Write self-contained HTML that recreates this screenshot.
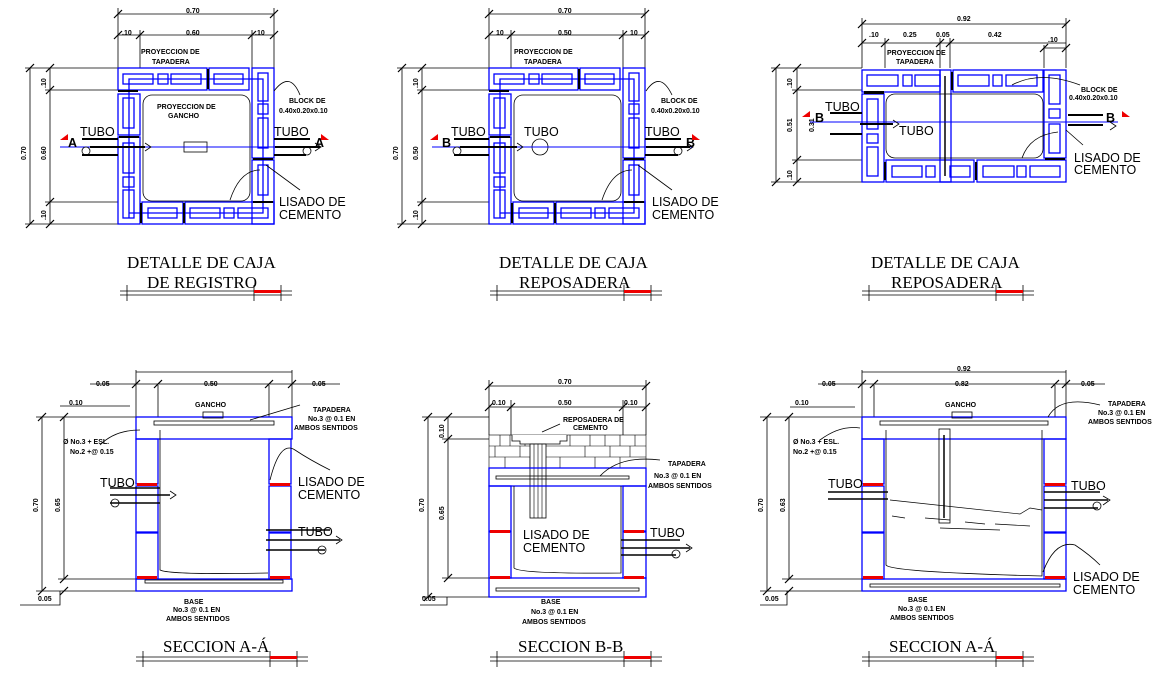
<!DOCTYPE html>
<html><head><meta charset="utf-8"><style>
html,body{margin:0;padding:0;background:#fff;}
svg{display:block}
.t{font-family:"Liberation Serif",serif;font-size:17px;fill:#000}
.s{font-family:"Liberation Sans",sans-serif;font-weight:bold;font-size:7px;fill:#000}
.m{font-family:"Liberation Sans",sans-serif;font-size:12.5px;fill:#000}
.b{fill:none;stroke:#00f;stroke-width:1.3}
.k{fill:none;stroke:#000;stroke-width:0.8}
</style></head><body>
<svg width="1166" height="682" viewBox="0 0 1166 682" xmlns="http://www.w3.org/2000/svg">
<defs>
<g id="plan">
 <!-- blocks -->
 <g class="b">
  <rect x="0" y="0" width="89" height="22"/><rect x="91" y="0" width="40" height="22"/>
  <rect x="134" y="0" width="22" height="90"/><rect x="134" y="92" width="22" height="64"/>
  <rect x="0" y="26" width="22" height="41"/><rect x="0" y="69" width="22" height="87"/>
  <rect x="24" y="134" width="41" height="22"/><rect x="67" y="134" width="89" height="22"/>
  <rect x="5" y="6" width="30" height="10"/><rect x="40" y="6" width="10" height="10"/><rect x="53" y="6" width="30" height="10"/>
  <rect x="96" y="6" width="29" height="10"/>
  <rect x="140" y="5" width="10" height="28"/><rect x="140" y="36" width="10" height="10"/><rect x="140" y="50" width="10" height="30"/>
  <rect x="140" y="97" width="10" height="30"/>
  <rect x="5" y="30" width="11" height="30"/><rect x="5" y="75" width="11" height="30"/><rect x="5" y="109" width="11" height="10"/><rect x="5" y="122" width="11" height="28"/>
  <rect x="30" y="140" width="29" height="10"/><rect x="72" y="140" width="30" height="10"/><rect x="106" y="140" width="10" height="10"/><rect x="120" y="140" width="30" height="10"/>
  <path d="M11 150 V11 H145 V145 H11"/>
 </g>
 <rect x="25" y="27" width="107" height="106" rx="9" class="k"/>
 <g fill="#000"><rect x="1" y="68" width="20" height="2"/><rect x="0" y="22" width="20" height="2"/><rect x="135" y="90" width="20" height="2"/><rect x="135" y="133" width="20" height="2"/><rect x="89" y="1" width="2" height="20"/><rect x="22" y="135" width="2" height="20"/><rect x="65" y="135" width="2" height="20"/></g>
</g>
<g id="ul">
 <path d="M0 0H172M0 4H172M7 -6V10M134 -6V10M161 -6V10" stroke="#000" stroke-width="0.8" fill="none"/>
 <rect x="134" y="-1" width="27" height="3" fill="#e00"/>
</g>
<g id="tick"><path d="M-4 4L4 -4" stroke="#000" stroke-width="1.2"/></g>
</defs>

<!-- ===== PANEL 1 ===== -->
<g class="k">
 <path d="M118 14H274M118 35H274M118 8V68M140 30V68M252 30V68M274 8V68"/>
 <path d="M30 68V224M50 68V224M25 68H118M45 90H118M45 202H118M25 224H118"/>
</g>
<use href="#tick" x="118" y="14"/><use href="#tick" x="274" y="14"/><use href="#tick" x="118" y="35"/><use href="#tick" x="140" y="35"/><use href="#tick" x="252" y="35"/><use href="#tick" x="274" y="35"/>
<use href="#tick" x="30" y="68"/><use href="#tick" x="50" y="68"/><use href="#tick" x="50" y="90"/><use href="#tick" x="50" y="202"/><use href="#tick" x="30" y="224"/><use href="#tick" x="50" y="224"/>
<text class="s" x="186" y="13">0.70</text><text class="s" x="122" y="35">.10</text><text class="s" x="186" y="35">0.60</text><text class="s" x="255" y="35">.10</text>
<text class="s" transform="translate(26 160) rotate(-90)">0.70</text><text class="s" transform="translate(46 160) rotate(-90)">0.60</text>
<text class="s" transform="translate(46 88) rotate(-90)">.10</text><text class="s" transform="translate(46 220) rotate(-90)">.10</text>
<use href="#plan" x="118" y="68"/>
<text class="s" x="141" y="54">PROYECCION DE</text><text class="s" x="152" y="64">TAPADERA</text>
<text class="s" x="157" y="109">PROYECCION DE</text><text class="s" x="168" y="118">GANCHO</text>
<rect x="184" y="142" width="23" height="10" class="k"/>
<text class="s" x="289" y="103">BLOCK DE</text><text class="s" x="279" y="113">0.40x0.20x0.10</text>
<path d="M60 147H320" stroke="#00f" stroke-width="1"/>
<path d="M82 139H118M82 155H118M274 139H310M274 155H306M90 147H145M275 147H320" stroke="#000" stroke-width="2"/>
<circle cx="86" cy="151" r="4" class="k"/><circle cx="307" cy="151" r="4" class="k"/>
<path d="M145 143L151 147L145 151M315 143L321 147L315 151" class="k"/>
<text class="m" x="80" y="136">TUBO</text><text class="m" x="274" y="136">TUBO</text>
<text class="m" font-weight="bold" x="68" y="147">A</text><text class="m" font-weight="bold" x="315" y="147">A</text>
<path d="M60 140L68 134L68 140Z" fill="#e00"/><path d="M329 140L321 134L321 140Z" fill="#e00"/>
<text class="m" x="279" y="206">LISADO DE</text><text class="m" x="279" y="219">CEMENTO</text>
<path d="M230 200Q240 170 260 170M266 165L300 190M274 91Q290 70 300 95" class="k"/>
<text class="t" x="127" y="268">DETALLE DE CAJA</text><text class="t" x="147" y="288">DE REGISTRO</text>
<use href="#ul" x="120" y="291"/>

<!-- ===== PANEL 2 ===== -->
<g class="k">
 <path d="M489 14H645M489 35H645M489 8V68M511 30V68M623 30V68M645 8V68"/>
 <path d="M402 68V224M422 68V224M397 68H489M417 90H489M417 202H489M397 224H489"/>
</g>
<use href="#tick" x="489" y="14"/><use href="#tick" x="645" y="14"/><use href="#tick" x="489" y="35"/><use href="#tick" x="511" y="35"/><use href="#tick" x="623" y="35"/><use href="#tick" x="645" y="35"/>
<use href="#tick" x="402" y="68"/><use href="#tick" x="422" y="68"/><use href="#tick" x="422" y="90"/><use href="#tick" x="422" y="202"/><use href="#tick" x="402" y="224"/><use href="#tick" x="422" y="224"/>
<text class="s" x="558" y="13">0.70</text><text class="s" x="496" y="35">10</text><text class="s" x="558" y="35">0.50</text><text class="s" x="630" y="35">10</text>
<text class="s" transform="translate(398 160) rotate(-90)">0.70</text><text class="s" transform="translate(418 160) rotate(-90)">0.50</text>
<text class="s" transform="translate(418 88) rotate(-90)">.10</text><text class="s" transform="translate(418 220) rotate(-90)">.10</text>
<use href="#plan" x="489" y="68"/>
<text class="s" x="514" y="54">PROYECCION DE</text><text class="s" x="524" y="64">TAPADERA</text>
<text class="s" x="661" y="103">BLOCK DE</text><text class="s" x="651" y="113">0.40x0.20x0.10</text>
<circle cx="540" cy="147" r="8" class="k"/>
<path d="M432 147H692" stroke="#00f" stroke-width="1"/>
<path d="M454 139H489M454 155H489M645 139H681M645 155H678M460 147H517M646 147H690" stroke="#000" stroke-width="2"/>
<circle cx="457" cy="151" r="4" class="k"/><circle cx="678" cy="151" r="4" class="k"/>
<path d="M517 143L523 147L517 151M687 143L693 147L687 151" class="k"/>
<text class="m" x="451" y="136">TUBO</text><text class="m" x="524" y="136">TUBO</text><text class="m" x="645" y="136">TUBO</text>
<text class="m" font-weight="bold" x="442" y="147">B</text><text class="m" font-weight="bold" x="686" y="147">B</text>
<path d="M430 140L438 134L438 140Z" fill="#e00"/><path d="M700 140L692 134L692 140Z" fill="#e00"/>
<text class="m" x="652" y="206">LISADO DE</text><text class="m" x="652" y="219">CEMENTO</text>
<path d="M602 200Q612 170 632 170M638 165L672 190M646 91Q660 70 672 95" class="k"/>
<text class="t" x="499" y="268">DETALLE DE CAJA</text><text class="t" x="519" y="288">REPOSADERA</text>
<use href="#ul" x="490" y="291"/>

<!-- ===== PANEL 3 ===== -->
<g class="k">
 <path d="M862 24H1066M862 43H1066M862 18V68M885 38V68M940 38V68M950 38V68M1044 45V68M1066 18V68M1044 48H1066"/>
 <path d="M776 68V182M797 68V182M771 68H862M792 90H862M792 160H862M771 182H862"/>
</g>
<use href="#tick" x="862" y="24"/><use href="#tick" x="1066" y="24"/><use href="#tick" x="862" y="43"/><use href="#tick" x="885" y="43"/><use href="#tick" x="940" y="43"/><use href="#tick" x="950" y="43"/><use href="#tick" x="1044" y="48"/><use href="#tick" x="1066" y="48"/>
<use href="#tick" x="776" y="68"/><use href="#tick" x="797" y="68"/><use href="#tick" x="797" y="90"/><use href="#tick" x="797" y="160"/><use href="#tick" x="776" y="182"/><use href="#tick" x="797" y="182"/>
<text class="s" x="957" y="21">0.92</text><text class="s" x="869" y="37">.10</text><text class="s" x="903" y="37">0.25</text><text class="s" x="936" y="37">0.05</text><text class="s" x="988" y="37">0.42</text><text class="s" x="1048" y="42">.10</text>
<text class="s" transform="translate(792 132) rotate(-90)">0.51</text><text class="s" transform="translate(814 132) rotate(-90)">0.31</text>
<text class="s" transform="translate(792 88) rotate(-90)">.10</text><text class="s" transform="translate(792 180) rotate(-90)">.10</text>
<g class="b">
 <rect x="862" y="70" width="78" height="22"/><rect x="953" y="70" width="90" height="22"/><rect x="1044" y="70" width="22" height="88"/>
 <rect x="862" y="94" width="22" height="88"/><rect x="886" y="160" width="88" height="22"/><rect x="977" y="160" width="89" height="22"/>
 <rect x="940" y="70" width="11" height="112"/>
 <rect x="867" y="75" width="31" height="11"/><rect x="903" y="75" width="9" height="11"/><rect x="915" y="75" width="25" height="11"/>
 <rect x="958" y="75" width="31" height="11"/><rect x="993" y="75" width="9" height="11"/><rect x="1006" y="75" width="31" height="11"/>
 <rect x="1049" y="75" width="11" height="29"/><rect x="1049" y="109" width="11" height="9"/><rect x="1049" y="124" width="11" height="29"/>
 <rect x="867" y="99" width="11" height="30"/><rect x="867" y="134" width="11" height="9"/><rect x="867" y="147" width="11" height="29"/>
 <rect x="892" y="166" width="30" height="11"/><rect x="926" y="166" width="9" height="11"/><rect x="950" y="166" width="20" height="11"/><rect x="983" y="166" width="31" height="11"/><rect x="1017" y="166" width="9" height="11"/><rect x="1030" y="166" width="30" height="11"/>
</g>
<rect x="886" y="94" width="157" height="64" rx="9" class="k"/>
<path d="M945 76V176" stroke="#000" stroke-width="1.5"/>
<g fill="#000"><rect x="864" y="91" width="20" height="3"/><rect x="1045" y="158" width="20" height="2"/><rect x="951" y="72" width="2" height="18"/><rect x="884" y="162" width="2" height="18"/><rect x="975" y="162" width="2" height="18"/></g>
<text class="s" x="887" y="55">PROYECCION DE</text><text class="s" x="896" y="64">TAPADERA</text>
<text class="s" x="1081" y="92">BLOCK DE</text><text class="s" x="1069" y="100">0.40x0.20x0.10</text>
<path d="M810 122H1118" stroke="#00f" stroke-width="1"/>
<path d="M830 113H862M830 134H862M1068 115H1103M1068 125H1103M860 124H893" stroke="#000" stroke-width="2"/>
<path d="M893 120L899 124L893 128M1110 122L1116 126L1110 130" class="k"/>
<text class="m" x="825" y="111">TUBO</text><text class="m" x="899" y="135">TUBO</text>
<text class="m" font-weight="bold" x="815" y="122">B</text><text class="m" font-weight="bold" x="1106" y="122">B</text>
<path d="M802 117L810 111L810 117Z" fill="#e00"/><path d="M1130 117L1122 111L1122 117Z" fill="#e00"/>
<text class="m" x="1074" y="162">LISADO DE</text><text class="m" x="1074" y="174">CEMENTO</text>
<path d="M1022 158Q1030 135 1058 132M1066 130L1083 145M1012 85Q1040 70 1080 85" class="k"/>
<text class="t" x="871" y="268">DETALLE DE CAJA</text><text class="t" x="891" y="288">REPOSADERA</text>
<use href="#ul" x="862" y="291"/>

<!-- ===== SECTION 4 ===== -->
<g class="k">
 <path d="M136 370V417M158 385V417M269 385V417M292 370V417M136 372H292M90 384H340M130 406H60"/>
 <path d="M42 417V591M64 417V579M36 417H136M58 579H136M36 591H136M60 591V605H20"/>
</g>
<use href="#tick" x="136" y="384"/><use href="#tick" x="158" y="384"/><use href="#tick" x="269" y="384"/><use href="#tick" x="292" y="384"/>
<use href="#tick" x="42" y="417"/><use href="#tick" x="64" y="417"/><use href="#tick" x="64" y="579"/><use href="#tick" x="42" y="591"/><use href="#tick" x="64" y="591"/>
<text class="s" x="96" y="386">0.05</text><text class="s" x="204" y="386">0.50</text><text class="s" x="312" y="386">0.05</text><text class="s" x="69" y="405">0.10</text>
<text class="s" transform="translate(38 512) rotate(-90)">0.70</text><text class="s" transform="translate(60 512) rotate(-90)">0.65</text><text class="s" x="38" y="601">0.05</text>
<g class="b">
 <rect x="136" y="417" width="156" height="22"/><rect x="136" y="579" width="156" height="12"/>
 <rect x="136" y="439" width="22" height="45"/><rect x="136" y="486" width="22" height="46"/><rect x="136" y="533" width="22" height="46"/>
 <rect x="269" y="439" width="22" height="45"/><rect x="269" y="486" width="22" height="46"/><rect x="269" y="533" width="22" height="46"/>
</g>
<rect x="154" y="421" width="120" height="4" class="k"/><rect x="145" y="580" width="138" height="3" class="k"/>
<rect x="203" y="412" width="20" height="6" class="k"/>
<g fill="#e00"><rect x="137" y="483" width="20" height="3"/><rect x="270" y="483" width="20" height="3"/><rect x="137" y="576" width="20" height="3"/><rect x="270" y="576" width="20" height="3"/></g>
<path d="M160 430V570Q170 575 268 573" class="k"/>
<path d="M110 488H160M110 503H160M110 495H170M266 530H330M266 550H325M266 540H340" stroke="#000" stroke-width="1.5"/>
<circle cx="115" cy="503" r="4" class="k"/><circle cx="322" cy="550" r="4" class="k"/>
<path d="M170 491L176 495L170 499M336 536L342 540L336 544" class="k"/>
<text class="m" x="100" y="487">TUBO</text><text class="m" x="298" y="536">TUBO</text>
<text class="m" x="298" y="486">LISADO DE</text><text class="m" x="298" y="499">CEMENTO</text>
<path d="M270 480Q280 440 295 450Q310 460 330 470M250 420L300 405M100 445Q115 430 140 430" class="k"/>
<text class="s" x="195" y="407">GANCHO</text>
<text class="s" x="313" y="412">TAPADERA</text><text class="s" x="308" y="421">No.3 @ 0.1 EN</text><text class="s" x="294" y="430">AMBOS SENTIDOS</text>
<text class="s" x="63" y="444">Ø No.3 + ESL.</text><text class="s" x="70" y="454">No.2 +@ 0.15</text>
<text class="s" x="184" y="604">BASE</text><text class="s" x="173" y="612">No.3 @ 0.1 EN</text><text class="s" x="166" y="621">AMBOS SENTIDOS</text>
<text class="t" x="163" y="652">SECCION A-Á</text>
<use href="#ul" x="136" y="657"/>

<!-- ===== SECTION 5 ===== -->
<g class="k">
 <path d="M489 380V435M511 400V435M623 400V435M646 380V435M489 386H646M489 407H646"/>
 <path d="M428 417V597M448 417V578M422 417H489M442 439H489M442 578H489M422 597H489M447 597V605H420"/>
</g>
<use href="#tick" x="489" y="386"/><use href="#tick" x="646" y="386"/><use href="#tick" x="489" y="407"/><use href="#tick" x="511" y="407"/><use href="#tick" x="623" y="407"/><use href="#tick" x="646" y="407"/>
<use href="#tick" x="428" y="417"/><use href="#tick" x="448" y="417"/><use href="#tick" x="448" y="439"/><use href="#tick" x="448" y="578"/><use href="#tick" x="428" y="597"/>
<text class="s" x="558" y="384">0.70</text><text class="s" x="492" y="405">0.10</text><text class="s" x="558" y="405">0.50</text><text class="s" x="624" y="405">0.10</text>
<text class="s" transform="translate(424 512) rotate(-90)">0.70</text><text class="s" transform="translate(444 520) rotate(-90)">0.65</text><text class="s" transform="translate(444 438) rotate(-90)">0.10</text><text class="s" x="422" y="601">0.05</text>
<rect x="489" y="435" width="157" height="33" fill="none" stroke="#000" stroke-width="0.6"/>
<path d="M489 446H646M489 457H646M500 435V446M510 435V446M525 435V446M570 435V446M590 435V446M605 435V446M620 435V446M635 435V446M495 446V457M520 446V457M545 446V457M585 446V457M610 446V457M630 446V457M505 457V468M530 457V468M560 457V468M595 457V468M620 457V468" stroke="#000" stroke-width="0.6"/>
<path d="M512 435V441H520V444H560V441H567V435" fill="#fff" stroke="#000" stroke-width="0.8"/>
<rect x="530" y="444" width="16" height="74" fill="#fff" stroke="#000" stroke-width="0.8"/>
<path d="M534 444V518M538 444V518M542 444V518" stroke="#000" stroke-width="0.6"/>
<g class="b">
 <rect x="489" y="468" width="157" height="18"/><rect x="489" y="578" width="157" height="19"/>
 <rect x="489" y="486" width="22" height="45"/><rect x="489" y="532" width="22" height="46"/>
 <rect x="623" y="486" width="23" height="45"/><rect x="623" y="532" width="23" height="46"/>
</g>
<rect x="496" y="476" width="133" height="3" class="k"/><rect x="496" y="588" width="143" height="3" class="k"/>
<g fill="#e00"><rect x="490" y="530" width="20" height="3"/><rect x="624" y="530" width="20" height="3"/><rect x="490" y="576" width="20" height="3"/><rect x="624" y="576" width="20" height="3"/></g>
<path d="M514 486V568Q520 574 621 573V486" class="k"/>
<path d="M621 540H680M621 555H676M621 548H690" stroke="#000" stroke-width="1.5"/>
<circle cx="676" cy="554" r="4" class="k"/><path d="M686 544L692 548L686 552" class="k"/>
<text class="m" x="650" y="537">TUBO</text>
<text class="m" x="523" y="539">LISADO DE</text><text class="m" x="523" y="552">CEMENTO</text>
<text class="s" x="563" y="422">REPOSADERA DE</text><text class="s" x="573" y="430">CEMENTO</text>
<path d="M542 432L560 424M600 476Q620 455 660 460" class="k"/>
<text class="s" x="668" y="466">TAPADERA</text><text class="s" x="654" y="478">No.3 @ 0.1 EN</text><text class="s" x="648" y="488">AMBOS SENTIDOS</text>
<text class="s" x="541" y="604">BASE</text><text class="s" x="531" y="614">No.3 @ 0.1 EN</text><text class="s" x="522" y="624">AMBOS SENTIDOS</text>
<text class="t" x="518" y="652">SECCION B-B</text>
<use href="#ul" x="490" y="657"/>

<!-- ===== SECTION 6 ===== -->
<g class="k">
 <path d="M862 370V417M874 385V417M1055 385V417M1066 370V417M862 372H1066M818 384H1105M855 407H790"/>
 <path d="M767 417V591M789 417V579M760 417H862M782 579H862M760 591H862M787 591V605H760"/>
</g>
<use href="#tick" x="862" y="384"/><use href="#tick" x="874" y="384"/><use href="#tick" x="1055" y="384"/><use href="#tick" x="1066" y="384"/>
<use href="#tick" x="767" y="417"/><use href="#tick" x="789" y="417"/><use href="#tick" x="789" y="579"/><use href="#tick" x="767" y="591"/><use href="#tick" x="789" y="591"/>
<text class="s" x="957" y="371">0.92</text><text class="s" x="822" y="386">0.05</text><text class="s" x="955" y="386">0.82</text><text class="s" x="1081" y="386">0.05</text><text class="s" x="795" y="405">0.10</text>
<text class="s" transform="translate(763 512) rotate(-90)">0.70</text><text class="s" transform="translate(785 512) rotate(-90)">0.63</text><text class="s" x="765" y="601">0.05</text>
<g class="b">
 <rect x="862" y="417" width="204" height="22"/><rect x="862" y="579" width="204" height="12"/>
 <rect x="862" y="439" width="22" height="45"/><rect x="862" y="486" width="22" height="46"/><rect x="862" y="533" width="22" height="46"/>
 <rect x="1044" y="439" width="22" height="45"/><rect x="1044" y="486" width="22" height="46"/><rect x="1044" y="533" width="22" height="46"/>
</g>
<rect x="880" y="421" width="168" height="4" class="k"/><rect x="870" y="584" width="190" height="3" class="k"/>
<rect x="952" y="412" width="20" height="6" class="k"/>
<rect x="939" y="429" width="11" height="94" class="k"/><path d="M944 435V518" stroke="#000" stroke-width="1.5"/>
<g fill="#e00"><rect x="863" y="483" width="20" height="3"/><rect x="1045" y="483" width="20" height="3"/><rect x="863" y="576" width="20" height="3"/><rect x="1045" y="576" width="20" height="3"/></g>
<path d="M886 430V565Q890 572 1042 576V430" class="k"/>
<path d="M890 500L1020 514L1030 508L1042 510M892 516L905 518M925 518L950 520M965 522L985 524M995 524L1030 526M940 528L1000 530" stroke="#000" stroke-width="0.7" fill="none"/>
<path d="M828 492H888M828 499H888M1044 492H1100M1044 508H1098M1044 500H1108" stroke="#000" stroke-width="1.5"/>
<circle cx="1097" cy="506" r="4" class="k"/><path d="M1103 496L1110 500L1103 505" class="k"/>
<text class="m" x="828" y="488">TUBO</text><text class="m" x="1071" y="490">TUBO</text>
<text class="m" x="1073" y="581">LISADO DE</text><text class="m" x="1073" y="594">CEMENTO</text>
<path d="M1043 572Q1055 540 1075 545Q1090 555 1100 565M1048 417Q1060 395 1100 405M820 440Q840 425 860 428" class="k"/>
<text class="s" x="945" y="407">GANCHO</text>
<text class="s" x="1108" y="406">TAPADERA</text><text class="s" x="1098" y="415">No.3 @ 0.1 EN</text><text class="s" x="1088" y="424">AMBOS SENTIDOS</text>
<text class="s" x="793" y="444">Ø No.3 + ESL.</text><text class="s" x="793" y="454">No.2 +@ 0.15</text>
<text class="s" x="908" y="602">BASE</text><text class="s" x="898" y="611">No.3 @ 0.1 EN</text><text class="s" x="890" y="620">AMBOS SENTIDOS</text>
<text class="t" x="889" y="652">SECCION A-Á</text>
<use href="#ul" x="862" y="657"/>
</svg>
</body></html>
